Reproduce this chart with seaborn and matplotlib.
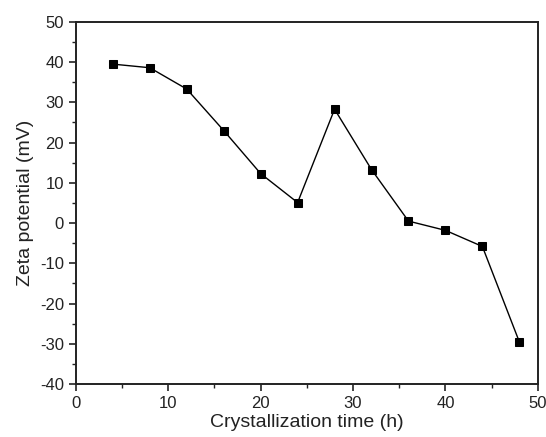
import matplotlib
matplotlib.use('Agg')
import matplotlib.pyplot as plt
import seaborn as sns
import pandas as pd
from matplotlib.ticker import MultipleLocator

time_h = [4, 8, 12, 16, 20, 24, 28, 32, 36, 40, 44, 48]
zeta_mv = [39.5, 38.6, 33.3, 23.0, 12.3, 5.1, 28.3, 13.3, 0.5, -1.8, -5.8, -29.5]

df = pd.DataFrame({'time': time_h, 'zeta': zeta_mv})

sns.set_style('ticks')
plt.rcParams['font.family'] = ['Liberation Sans', 'DejaVu Sans']
plt.rcParams['axes.unicode_minus'] = False

fig = plt.figure(figsize=(5.46, 4.37), dpi=100)
ax = fig.add_axes([0.139, 0.121, 0.846, 0.829])
sns.lineplot(data=df, x='time', y='zeta', ax=ax, color='black', linewidth=1.0,
             marker='s', markersize=6, markeredgecolor='black')

ax.set_xlim(0, 50)
ax.set_ylim(-40, 50)
ax.xaxis.set_major_locator(MultipleLocator(10))
ax.xaxis.set_minor_locator(MultipleLocator(5))
ax.yaxis.set_major_locator(MultipleLocator(10))
ax.yaxis.set_minor_locator(MultipleLocator(5))
ax.tick_params(which='major', direction='out', length=5, width=1.2, labelsize=12, colors='#222222')
ax.tick_params(which='minor', direction='out', length=3, width=1.0, bottom=True, left=True, colors='#222222')
ax.tick_params(top=False, right=False, which='both')
for s in ax.spines.values():
    s.set_linewidth(1.4)
    s.set_color('#222222')
ax.set_xlabel('Crystallization time (h)', fontsize=14, color='#222222', labelpad=2)
ax.set_ylabel('Zeta potential (mV)', fontsize=14, color='#222222', labelpad=4)

fig.savefig('out.png', dpi=100)
